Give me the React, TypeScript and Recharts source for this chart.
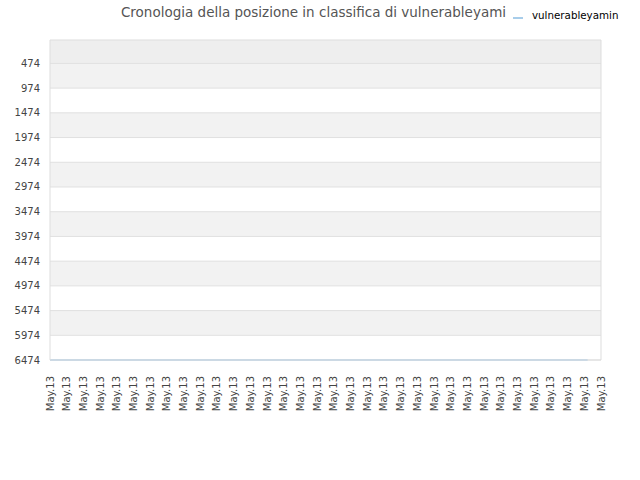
import React from "react";
import { LineChart, Line, XAxis, YAxis, ReferenceArea, ReferenceLine } from "recharts";

const seriesName = "vulnerableyamin";
const titleText = "Cronologia della posizione in classifica di vulnerableyami";
const xLabel = "May.13";
const xTickIdx = Array.from({ length: 34 }, (_, i) => i);
const pointX = [0, 8, 16, 24, 32.2];
const pointRank = [6474, 6474, 6474, 6474, 6474];
const yTicks = [474, 974, 1474, 1974, 2474, 2974, 3474, 3974, 4474, 4974, 5474, 5974, 6474];
const yMin = 1;
const yMax = 6474;

const data = pointX.map((x, i) => ({ x, rank: pointRank[i] }));
const bandEdges = [yMin, ...yTicks];
const bands = bandEdges.slice(0, -1).map((y1, i) => ({
  y1,
  y2: bandEdges[i + 1],
  fill: i === 0 ? "#eeeeee" : i % 2 === 1 ? "#f2f2f2" : "#ffffff",
}));

const XTick = (props: any) => {
  const { x, y } = props;
  const ty = y + 8;
  return (
    <text
      x={x}
      y={ty}
      transform={`rotate(-90, ${x}, ${ty})`}
      textAnchor="end"
      dominantBaseline="central"
      fontSize={10}
      fontFamily="DejaVu Sans"
      fill="#444"
    >
      {xLabel}
    </text>
  );
};

const YTick = (props: any) => {
  const { x, y, payload } = props;
  return (
    <text x={x - 2} y={y} textAnchor="end" dominantBaseline="central" fontSize={10} fontFamily="DejaVu Sans" fill="#444">
      {payload.value}
    </text>
  );
};

export default function App() {
  return (
    <div style={{ position: "absolute", left: 0, top: 0, width: 640, height: 480, background: "#fff" }}>
      <div
        style={{
          position: "absolute",
          left: 0,
          width: 627,
          top: 4,
          textAlign: "center",
          fontFamily: "DejaVu Sans",
          fontSize: 13.5,
          color: "#555",
        }}
      >
        {titleText}
      </div>
      <div
        style={{
          position: "absolute",
          top: 9,
          left: 512,
          display: "flex",
          alignItems: "center",
          fontFamily: "DejaVu Sans",
          fontSize: 10.3,
          color: "#000",
        }}
      >
        <svg width={12} height={12} style={{ marginRight: 8 }}>
          <line x1={1} y1={9} x2={11} y2={9} stroke="#a8cdea" strokeWidth={2} />
        </svg>
        <span>{seriesName}</span>
      </div>
      <LineChart width={640} height={480} data={data} margin={{ top: 40, right: 39, bottom: 0, left: 0 }}>
        {bands.map((b, i) => (
          <ReferenceArea key={`b${i}`} y1={b.y1} y2={b.y2} fill={b.fill} fillOpacity={1} stroke="none" ifOverflow="visible" />
        ))}
        {yTicks.map((t) => (
          <ReferenceLine key={`g${t}`} y={t} stroke="#e0e0e0" />
        ))}
        <ReferenceLine y={yMin} stroke="#dddddd" />
        <ReferenceLine x={33} stroke="#dddddd" />
        <XAxis
          dataKey="x"
          type="number"
          domain={[0, 33]}
          ticks={xTickIdx}
          interval={0}
          height={120}
          tick={<XTick />}
          tickLine={false}
          axisLine={{ stroke: "#dddddd" }}
        />
        <YAxis
          type="number"
          reversed
          domain={[yMin, yMax]}
          ticks={yTicks}
          interval={0}
          width={50}
          tick={<YTick />}
          tickLine={false}
          axisLine={{ stroke: "#dddddd" }}
        />
        <Line
          type="linear"
          dataKey="rank"
          name={seriesName}
          stroke="#a8cdea"
          strokeWidth={1.5}
          dot={false}
          isAnimationActive={false}
        />
      </LineChart>
    </div>
  );
}
